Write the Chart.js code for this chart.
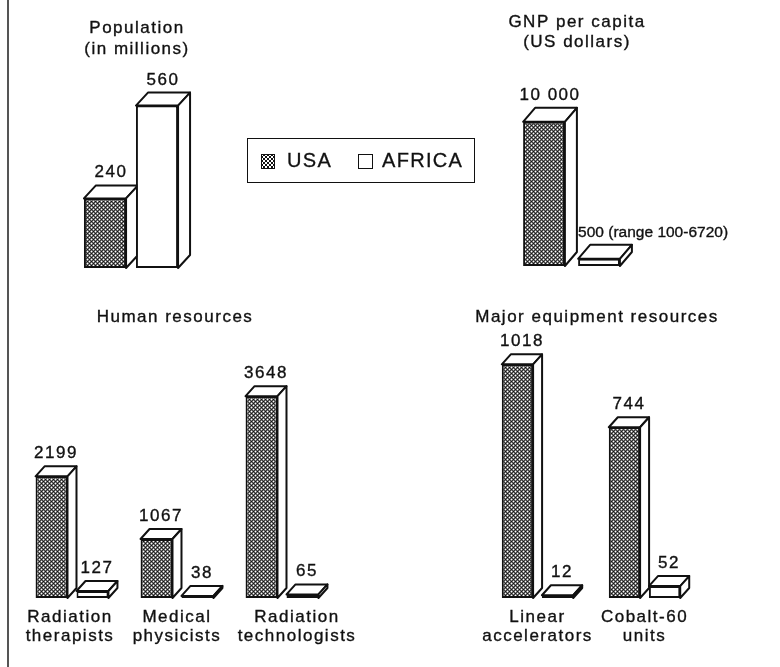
<!DOCTYPE html>
<html>
<head>
<meta charset="utf-8">
<script src="https://cdn.jsdelivr.net/npm/chart.js@4.4.1/dist/chart.umd.min.js"></script>
<style>
  html, body { margin: 0; padding: 0; background: #fff; }
  #page { position: relative; width: 780px; height: 667px; overflow: hidden; }
  #page canvas { position: absolute; left: 0; top: 0; }
  #rule { position: absolute; left: 7px; top: 0; width: 2px; height: 667px; background: #555; }
  #legend {
    position: absolute; left: 247px; top: 138px; width: 226px; height: 43px;
    border: 1.5px solid #111; color: #111;
    font: 20px "Liberation Sans", Arial, sans-serif; letter-spacing: 1.3px;
    -webkit-text-stroke: 0.3px #111;
  }
  #legend span { position: absolute; top: 10px; line-height: 22px; }
  .sw { position: absolute; top: 15px; width: 12px; height: 13px; border: 1px solid #111; }
  .sw.usa {
    background-color: #111;
    background-image: radial-gradient(circle, #fff 0.9px, transparent 1.2px),
                      radial-gradient(circle, #fff 0.9px, transparent 1.2px);
    background-size: 4px 4px; background-position: 0 0, 2px 2px;
  }
  .sw.afr { background: #fff; width: 13px; height: 13px; border-width: 1.5px; }
</style>
</head>
<body>
<div id="page">
  <div id="rule"></div>
  <canvas id="popChart" width="780" height="667"></canvas>
  <canvas id="gnpChart" width="780" height="667"></canvas>
  <canvas id="humanChart" width="780" height="667"></canvas>
  <canvas id="equipChart" width="780" height="667"></canvas>
  <div id="legend">
    <div class="sw usa" style="left:13px"></div><span style="left:39px">USA</span>
    <div class="sw afr" style="left:110px"></div><span style="left:134px">AFRICA</span>
  </div>
</div>
<script>
// datos
var seriesNames = ['USA', 'AFRICA'];

var popCategories = ['Population'];
var popUSA = [240];
var popAfrica = [560];

var gnpCategories = ['GNP per capita'];
var gnpUSA = [10000];
var gnpAfrica = [500];
var gnpUSALabels = ['10 000'];
var gnpAfricaLabels = ['500 (range 100-6720)'];

var humanCategories = [['Radiation', 'therapists'], ['Medical', 'physicists'], ['Radiation', 'technologists']];
var humanUSA = [2199, 1067, 3648];
var humanAfrica = [127, 38, 65];

var equipCategories = [['Linear', 'accelerators'], ['Cobalt-60', 'units']];
var equipUSA = [1018, 744];
var equipAfrica = [12, 52];

var INK = '#111';
var FAMILY = '"Liberation Sans", Arial, sans-serif';

// trama de puntos para las barras USA
function makeDots() {
    var tile = document.createElement('canvas');
    tile.width = 4;
    tile.height = 4;
    var g = tile.getContext('2d');
    g.fillStyle = INK;
    g.fillRect(0, 0, 4, 4);
    g.fillStyle = '#fff';
    [[1.5, 1.5], [3.5, 3.5], [-0.5, -0.5], [3.5, -0.5], [-0.5, 3.5]].forEach(function (p) {
        g.beginPath();
        g.arc(p[0], p[1], 1.0, 0, Math.PI * 2);
        g.fill();
    });
    return document.createElement('canvas').getContext('2d').createPattern(tile, 'repeat');
}
var dots = makeDots();

function drawText(ctx, txt, x, y) {
    ctx.fillText(txt, x, y);
    ctx.strokeText(txt, x, y);
}

var cubePlugin = {
    id: 'cubes',
    // caras superior y lateral, antes de la cara frontal
    beforeDatasetsDraw: function (chart) {
        var o = chart.options.plugins.cubes;
        var ctx = chart.ctx;
        ctx.save();
        ctx.lineJoin = 'round';
        ctx.lineWidth = 2;
        ctx.strokeStyle = INK;
        ctx.fillStyle = '#fff';
        chart.data.datasets.forEach(function (ds, i) {
            chart.getDatasetMeta(i).data.forEach(function (bar) {
                var p = bar.getProps(['x', 'y', 'base', 'width'], true);
                var l = p.x - p.width / 2, r = p.x + p.width / 2, t = p.y, b = p.base;
                ctx.beginPath();
                ctx.moveTo(l, t);
                ctx.lineTo(l + o.dx, t - o.dy);
                ctx.lineTo(r + o.dx, t - o.dy);
                ctx.lineTo(r, t);
                ctx.closePath();
                ctx.fill();
                ctx.stroke();
                ctx.beginPath();
                ctx.moveTo(r, t);
                ctx.lineTo(r + o.dx, t - o.dy);
                ctx.lineTo(r + o.dx, b - o.dy);
                ctx.lineTo(r, b);
                ctx.closePath();
                ctx.fill();
                ctx.stroke();
            });
        });
        ctx.restore();
    },
    afterDraw: function (chart) {
        var o = chart.options.plugins.cubes;
        var ctx = chart.ctx;
        ctx.save();
        ctx.fillStyle = INK;
        ctx.strokeStyle = INK;
        ctx.lineWidth = 0.35;
        ctx.font = '17px ' + FAMILY;
        ctx.letterSpacing = '1.5px';
        ctx.textBaseline = 'alphabetic';
        // valores encima de cada barra
        chart.data.datasets.forEach(function (ds, i) {
            chart.getDatasetMeta(i).data.forEach(function (bar, j) {
                var p = bar.getProps(['x', 'y', 'width'], true);
                var txt = o.texts && o.texts[i] ? o.texts[i][j] : String(ds.data[j]);
                var y = p.y - o.dy - 8;
                if (o.leftAlign && o.leftAlign[i]) {
                    ctx.save();
                    ctx.font = '15.5px ' + FAMILY;
                    ctx.letterSpacing = '0px';
                    ctx.textAlign = 'left';
                    drawText(ctx, txt, p.x - p.width / 2, y);
                    ctx.restore();
                } else {
                    ctx.textAlign = 'center';
                    drawText(ctx, txt, p.x + o.dx / 2, y);
                }
            });
        });
        // titulo del panel
        ctx.textAlign = 'center';
        o.title.forEach(function (line) {
            drawText(ctx, line[0], line[1], line[2]);
        });
        // nombres de categoria bajo el eje
        if (o.catY) {
            var xs = chart.scales.x;
            chart.data.labels.forEach(function (lab, j) {
                var x = xs.getPixelForValue(j) + (o.catShift ? o.catShift[j] : 0);
                lab.forEach(function (line, k) {
                    drawText(ctx, line, x, o.catY[k]);
                });
            });
        }
        ctx.restore();
    }
};

function makeChart(id, cats, usa, africa, box, yMax, opts) {
    var ctx = document.getElementById(id).getContext('2d');
    return new Chart(ctx, {
        type: 'bar',
        data: {
            labels: cats,
            datasets: [
                {
                    label: seriesNames[0],
                    data: usa,
                    backgroundColor: dots,
                    borderColor: INK,
                    borderWidth: 2,
                    borderSkipped: false
                },
                {
                    label: seriesNames[1],
                    data: africa,
                    backgroundColor: '#fff',
                    borderColor: INK,
                    borderWidth: 2,
                    borderSkipped: false
                }
            ]
        },
        options: {
            responsive: false,
            animation: false,
            events: [],
            layout: {
                padding: { left: box[0], top: box[1], right: 780 - box[2], bottom: 667 - box[3] }
            },
            datasets: {
                bar: { categoryPercentage: opts.cp, barPercentage: opts.bp }
            },
            plugins: {
                legend: { display: false },
                tooltip: { enabled: false },
                cubes: {
                    dx: opts.dx,
                    dy: opts.dy,
                    title: opts.title,
                    texts: opts.texts,
                    leftAlign: opts.leftAlign,
                    catY: opts.catY,
                    catShift: opts.catShift
                }
            },
            scales: {
                x: { display: false },
                y: { display: false, min: 0, max: yMax }
            }
        },
        plugins: [cubePlugin]
    });
}

makeChart('popChart', popCategories, popUSA, popAfrica, [79, 36, 183, 268], 800, {
    cp: 1, bp: 0.81, dx: 12, dy: 13,
    title: [['Population', 137, 33], ['(in millions)', 137, 54]]
});

makeChart('gnpChart', gnpCategories, gnpUSA, gnpAfrica, [516.5, 93, 626.5, 266], 12000, {
    cp: 1, bp: 0.76, dx: 12, dy: 14,
    title: [['GNP per capita', 577, 27], ['(US dollars)', 577, 47]],
    texts: [gnpUSALabels, gnpAfricaLabels],
    leftAlign: [false, true]
});

makeChart('humanChart', humanCategories, humanUSA, humanAfrica, [19.5, 349, 334.5, 598], 4500, {
    cp: 0.78, bp: 0.78, dx: 9, dy: 10,
    title: [['Human resources', 175, 322]],
    catY: [622, 641],
    catShift: [-2, 0, 15]
});

makeChart('equipChart', equipCategories, equipUSA, equipAfrica, [484, 322.6, 698, 598], 1200, {
    cp: 0.75, bp: 0.78, dx: 9, dy: 10,
    title: [['Major equipment resources', 597, 322]],
    catY: [622, 641]
});
</script>
</body>
</html>
